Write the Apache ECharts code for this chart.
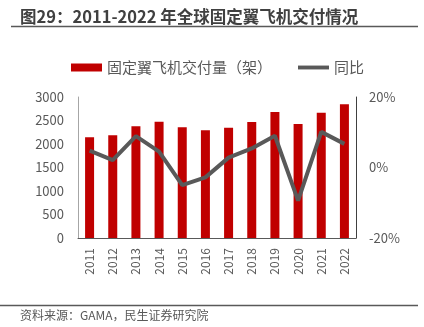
<!DOCTYPE html>
<html><head><meta charset="utf-8">
<script src="https://cdn.jsdelivr.net/npm/echarts@6/dist/echarts.min.js"></script>
<style>html,body{margin:0;padding:0;background:#fff}#c{width:424px;height:327px}</style>
</head><body><div id="c"></div>
<script>
const categories = ['2011','2012','2013','2014','2015','2016','2017','2018','2019','2020','2021','2022'];
const deliveries = [2143, 2185, 2376, 2475, 2355, 2291, 2347, 2468, 2681, 2426, 2666, 2845];
const yoy = [4.8, 2.1, 8.9, 4.5, -5.0, -2.8, 2.8, 5.4, 9.0, -9.4, 10.1, 6.7];
const leftTicks = [0, 500, 1000, 1500, 2000, 2500, 3000];
const rightTicks = [-20, 0, 20];

const font = '"Noto Sans CJK SC", "Microsoft YaHei", sans-serif';
const chart = echarts.init(document.getElementById('c'), null, {renderer: 'canvas'});
chart.setOption({
  animation: false,
  textStyle: {fontFamily: font},
  grid: {left: 78, right: 68, top: 97, bottom: 89, containLabel: false},
  legend: {
    top: 55, left: 66, itemGap: 26,
    textStyle: {fontSize: 15, color: '#595959', fontFamily: font},
    data: [
      {name: '固定翼飞机交付量（架）', icon: 'rect', itemStyle: {color: '#C00000'}},
      {name: '同比', icon: 'path://M0,0 L32,0 L32,4 L0,4 Z', itemStyle: {color: '#595959'}}
    ],
    itemWidth: 31, itemHeight: 8
  },
  xAxis: {
    type: 'category', data: categories,
    axisLine: {lineStyle: {color: '#595959', width: 1}},
    axisTick: {show: false},
    axisLabel: {rotate: 90, color: '#595959', fontSize: 12, margin: 10, fontFamily: font}
  },
  yAxis: [
    {type: 'value', min: leftTicks[0], max: leftTicks[leftTicks.length-1], interval: 500,
     axisLine: {show: true, lineStyle: {color: '#A6A6A6'}}, axisTick: {show: false}, splitLine: {show: false},
     axisLabel: {color: '#595959', fontSize: 13, margin: 14, fontFamily: font, formatter: function (v) { return String(v); }}},
    {type: 'value', min: rightTicks[0], max: rightTicks[rightTicks.length-1], interval: 20,
     axisLine: {show: true, lineStyle: {color: '#404040'}}, axisTick: {show: false}, splitLine: {show: false},
     axisLabel: {color: '#595959', fontSize: 13, margin: 13, formatter: '{value}%', fontFamily: font}}
  ],
  series: [
    {name: '固定翼飞机交付量（架）', type: 'bar', data: deliveries, barWidth: 9,
     itemStyle: {color: '#C00000'}},
    {name: '同比', type: 'line', yAxisIndex: 1, data: yoy, symbol: 'none',
     lineStyle: {color: '#595959', width: 4}, itemStyle: {color: '#595959'}}
  ],
  graphic: [
    {type: 'text', left: 20, top: 8, style: {text: '图29：2011-2022 年全球固定翼飞机交付情况', font: 'bold 16.5px ' + font, fill: '#404040'}},
    {type: 'line', shape: {x1: 11, y1: 26.5, x2: 418, y2: 26.5}, style: {stroke: '#595959', lineWidth: 1.5}},
    {type: 'line', shape: {x1: 0, y1: 305.5, x2: 418, y2: 305.5}, style: {stroke: '#595959', lineWidth: 1.5}},
    {type: 'text', left: 20, top: 309, style: {text: '资料来源：GAMA，民生证券研究院', font: '12px ' + font, fill: '#595959'}}
  ]
});
</script></body></html>
